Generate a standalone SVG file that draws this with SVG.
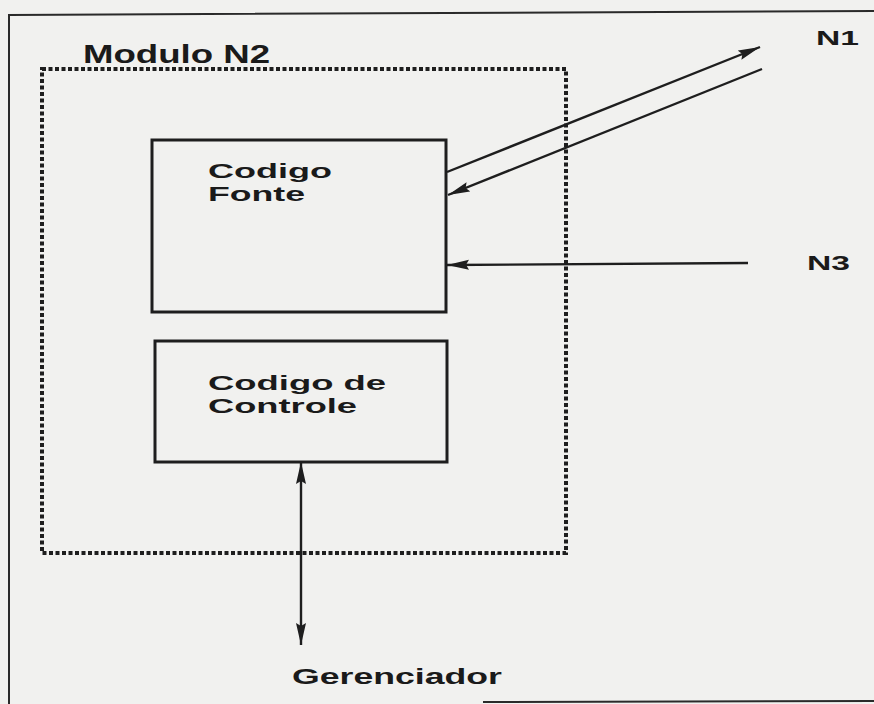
<svg xmlns="http://www.w3.org/2000/svg" width="874" height="704" viewBox="0 0 874 704">
<defs>
<marker id="ah" markerUnits="userSpaceOnUse" markerWidth="24" markerHeight="12" refX="22" refY="6" orient="auto">
<path d="M0,1 L22,6 L0,11 L3,6 Z" fill="#1e1e1e"/>
</marker>
<marker id="ahs" markerUnits="userSpaceOnUse" markerWidth="24" markerHeight="12" refX="2" refY="6" orient="auto">
<path d="M24,1 L2,6 L24,11 L21,6 Z" fill="#1e1e1e"/>
</marker>
<style>
.frame{fill:none;stroke:#2a2a2a;stroke-width:2}
.dot{fill:none;stroke:#1e1e1e;stroke-width:4;stroke-dasharray:4 2.5}
.box{fill:none;stroke:#1e1e1e;stroke-width:3}
.ln{fill:none;stroke:#1e1e1e;stroke-width:2.4}
.t{font-family:"Liberation Sans",Arial,sans-serif;font-weight:bold;fill:#1a1a1a}
</style>
</defs>
<rect width="874" height="704" fill="#f1f1ef"/>
<path class="frame" d="M9,704 L9,15 L874,11"/>
<path class="frame" d="M483,702 L874,701"/>
<g id="modulo-n2">
<rect class="dot" x="42" y="69" width="524" height="484"/>
<text class="t" x="83" y="63" font-size="25" textLength="187" lengthAdjust="spacingAndGlyphs">Modulo N2</text>
</g>
<g id="codigo-fonte">
<rect class="box" x="152" y="140" width="294" height="172"/>
<text class="t" x="208" y="178" font-size="21" textLength="124" lengthAdjust="spacingAndGlyphs">Codigo</text>
<text class="t" x="208" y="201" font-size="21" textLength="97" lengthAdjust="spacingAndGlyphs">Fonte</text>
</g>
<g id="codigo-controle">
<rect class="box" x="155" y="341" width="292" height="121"/>
<text class="t" x="208" y="390" font-size="21" textLength="178" lengthAdjust="spacingAndGlyphs">Codigo de</text>
<text class="t" x="208" y="413" font-size="21" textLength="149" lengthAdjust="spacingAndGlyphs">Controle</text>
</g>
<g id="n1"><text class="t" x="816" y="45" font-size="21" textLength="43" lengthAdjust="spacingAndGlyphs">N1</text></g>
<g id="n3"><text class="t" x="807" y="270" font-size="21" textLength="43" lengthAdjust="spacingAndGlyphs">N3</text></g>
<g id="gerenciador"><text class="t" x="292" y="684" font-size="22" textLength="210" lengthAdjust="spacingAndGlyphs">Gerenciador</text></g>
<g id="connectors">
<line class="ln" x1="447" y1="172" x2="760" y2="47" marker-end="url(#ah)"/>
<line class="ln" x1="762" y1="69" x2="448" y2="195" marker-end="url(#ah)"/>
<line class="ln" x1="748" y1="263" x2="447" y2="265" marker-end="url(#ah)"/>
<line class="ln" x1="301" y1="462" x2="301" y2="645" marker-start="url(#ahs)" marker-end="url(#ah)"/>
</g>
</svg>
